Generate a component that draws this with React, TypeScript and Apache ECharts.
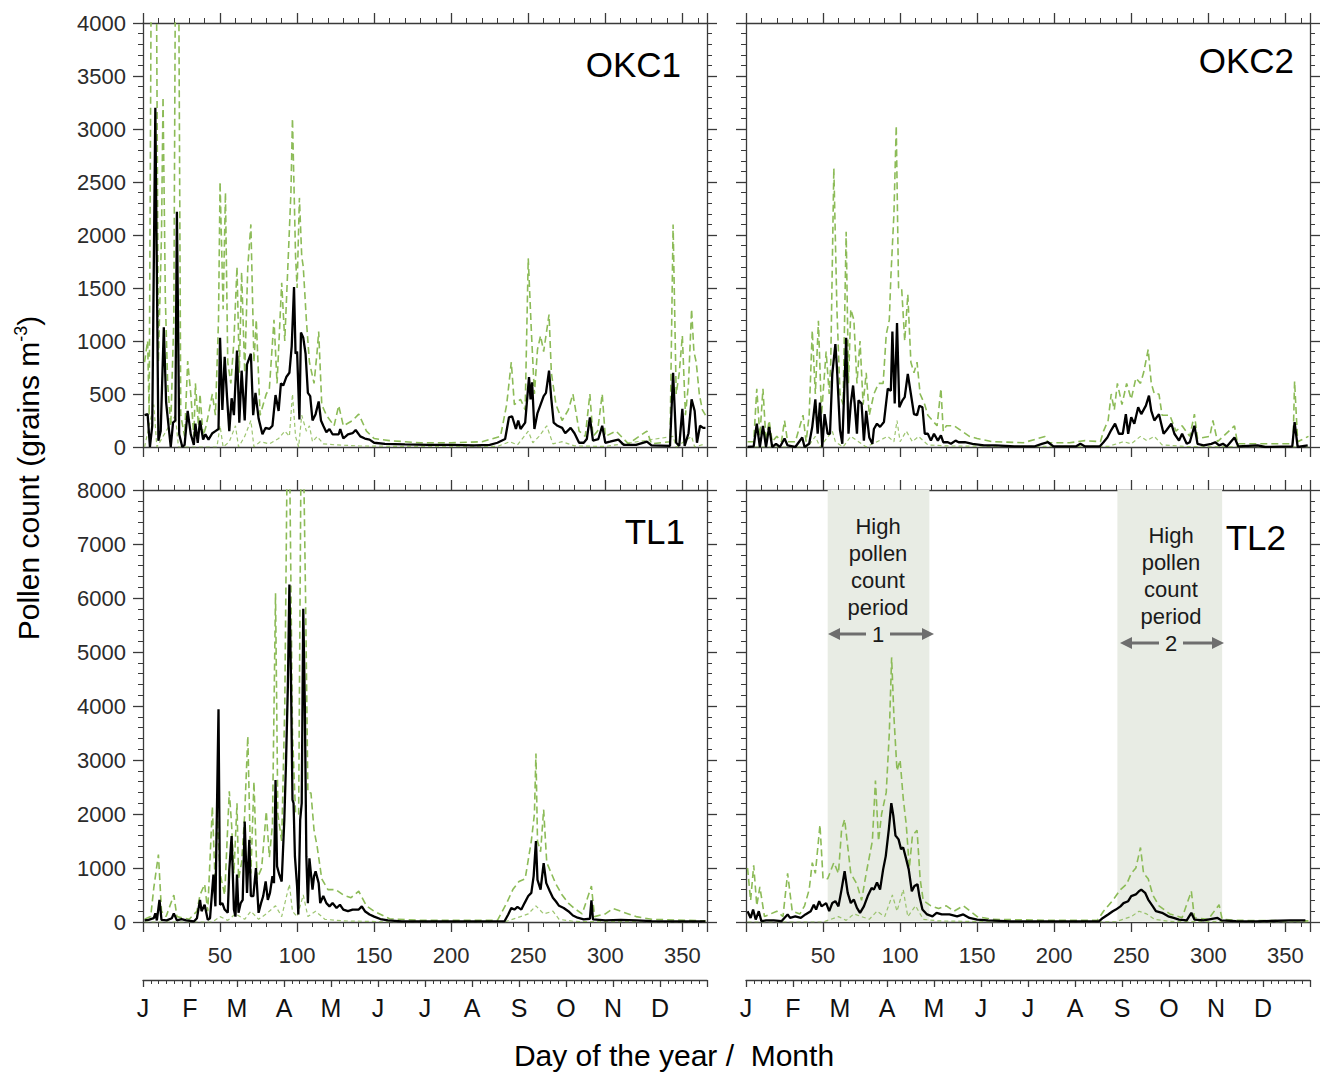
import React, { useEffect, useRef } from "react";
import * as echarts from "echarts";

// ---------- DATA (day of year, pollen count) ----------
const okc1Mean: number[][] = [[1,300],[3,310],[4.5,0],[6,200],[8,3200],[10,60],[11.5,150],[13.5,1130],[15,420],[18,0],[19.5,230],[21,250],[22,2220],[23.5,120],[25.5,0],[27,20],[29,340],[31,120],[33,20],[34,220],[35.5,40],[37,250],[39,70],[40.5,120],[42.5,70],[45,130],[47,150],[49,170],[50,1030],[51.5,350],[53,850],[54.5,480],[56,150],[57.5,460],[59,300],[61,910],[62.5,230],[64,720],[66,250],[67.5,780],[69,840],[70,880],[71.5,300],[73,510],[75,270],[77.5,120],[79.5,180],[82,170],[84,200],[86,490],[88,340],[89.5,600],[91,580],[93,660],[95,700],[96.5,950],[98,1510],[99,880],[100,900],[101.5,260],[102.5,1080],[104,1030],[105.5,880],[107,510],[108.5,480],[110,250],[112,310],[114,430],[115.5,250],[117,200],[119,140],[121,170],[123,120],[127,120],[128,170],[130,80],[133,120],[136,130],[138,160],[141,100],[144,80],[147,70],[150,40],[157,30],[170,25],[185,20],[200,20],[215,15],[225,20],[230,40],[235,75],[237.5,280],[239.5,290],[242,170],[243.5,250],[245,170],[248,230],[250.5,660],[251.5,450],[252.5,610],[254,170],[256,320],[258,400],[260,480],[261.5,510],[263.5,720],[265,450],[266.5,230],[269,200],[272,180],[274,130],[277.5,180],[280,130],[283,40],[286,40],[288,75],[290,280],[292,60],[295.5,75],[298,200],[300,40],[303,50],[308.5,70],[312,20],[320,20],[327,50],[330,15],[342,10],[344,700],[346,40],[348,10],[350,360],[351.5,10],[354,130],[356,450],[358,340],[359.5,40],[361.5,200],[363.5,180],[365,180]];
const okc1Upper: number[][] = [[1,800],[3,1000],[4,300],[5.5,5000],[7,6000],[8.5,5000],[10,800],[12,2000],[13,3300],[14.5,1400],[16,600],[18,200],[20,1200],[21.5,6000],[23,5000],[24.5,300],[27,100],[29,810],[31,500],[33,100],[34,600],[36,200],[37,500],[39,100],[41,200],[45,500],[47,300],[49,1200],[50,2500],[52,1300],[53.5,2400],[55,800],[57,600],[59,1000],[61,1700],[62.5,700],[64,1650],[66,700],[68,1700],[70,2100],[72,800],[73.5,1200],[76,300],[80,500],[82,550],[85,1200],[87,600],[90,1550],[92,1000],[94,1700],[96,2400],[97,3100],[99,1800],[100,1500],[101.5,2350],[103,1800],[104,1700],[106,1200],[108,800],[111,600],[113,900],[114,1090],[116,400],[119,300],[124,200],[127,390],[130,200],[136,250],[140,310],[145,150],[150,80],[160,60],[180,40],[200,40],[220,50],[232,100],[236,400],[239,800],[241,400],[245,450],[248,350],[250,1780],[252,1100],[254,500],[256,920],[258,1050],[260,900],[262,1100],[263.5,1250],[265,700],[268,400],[272,250],[276,350],[279,500],[283,150],[287,100],[290,500],[292,100],[295,150],[298,500],[300,100],[307,150],[315,30],[327,150],[330,30],[342,50],[344,2100],[346,500],[348,700],[350,1050],[352,300],[354,600],[356,1300],[357.5,900],[359,800],[361,500],[363,350],[365,300]];
const okc1Lower: number[][] = [[1,0],[7,400],[9,0],[21,300],[23,0],[30,0],[48,0],[50,200],[52,0],[56,50],[60,200],[62,0],[66,100],[70,250],[72,0],[76,50],[82,30],[88,80],[92,150],[95,100],[97,500],[99,100],[101,0],[103,300],[106,150],[108,200],[110,50],[113,100],[117,30],[125,20],[140,10],[170,5],[230,5],[238,50],[243,20],[250,150],[253,40],[257,100],[262,200],[266,30],[272,50],[280,10],[300,5],[344,100],[346,0],[356,100],[358,0],[365,30]];

const okc2Mean: number[][] = [[1,0],[5,5],[7,220],[9,0],[11,200],[13,0],[15,190],[17,0],[19.5,30],[22,0],[25,80],[27,15],[32,0],[36.5,90],[38,0],[41,30],[43,190],[45,450],[46.5,125],[48,420],[49.5,0],[51,310],[53,125],[54.5,125],[56,690],[58,970],[59,750],[61,160],[62.5,30],[65,1030],[66.5,125],[68,410],[69.5,580],[70.5,410],[72,125],[73,440],[75,410],[76.5,60],[78,340],[80,90],[82,30],[83,170],[85,220],[87,190],[89.5,235],[92,550],[94,530],[95,1090],[96.5,410],[98,1170],[99.5,375],[101.5,440],[103,470],[105,690],[107,500],[109,310],[111,300],[112.5,390],[114.5,375],[116,125],[118,125],[120,60],[122,125],[124.5,60],[126.5,110],[128,45],[131,45],[133,30],[136,60],[138,45],[142,45],[147,30],[154.5,15],[162,15],[174.5,5],[187,5],[192,30],[196,45],[199.5,5],[214,5],[217,30],[220,5],[229.5,5],[232,45],[234.5,90],[237,160],[239.5,220],[242,125],[244.5,125],[246.5,310],[248,125],[250,280],[252,220],[254.5,375],[256.5,310],[259.5,390],[261.5,485],[263,340],[265,250],[268,310],[271,125],[273,160],[276,220],[278,125],[281,60],[283,125],[286,30],[288,45],[291,200],[293,30],[297,15],[302,30],[304.5,45],[307,15],[309.5,30],[312,5],[317,90],[319.5,5],[332,15],[337,0],[354.5,5],[356,235],[358,0],[364.5,15]];
const okc2Upper: number[][] = [[1,50],[5,50],[7,550],[9,100],[11,550],[13,50],[15,250],[17,50],[20,100],[23,50],[25,250],[27,50],[32,50],[37,300],[39,50],[41,300],[43,1100],[45,500],[47,1190],[49,300],[51,700],[52,900],[54,500],[55,800],[57,2630],[59,1300],[61,500],[63,400],[65,2030],[66.5,600],[68,1300],[70,1200],[72,600],[74,1000],[76,400],[78,700],[80,300],[83,500],[86,600],[89,600],[91,1060],[93,1200],[94,1600],[96,2200],[97.5,3030],[99,1500],[101,1500],[103,1000],[105,1440],[107,800],[109,700],[111,800],[113,500],[116,400],[118,300],[121,250],[124,200],[126.5,550],[128,150],[130,200],[135,200],[140,150],[145,100],[150,80],[160,50],[180,40],[194,100],[196,40],[210,40],[220,60],[230,50],[232,150],[235,250],[237,500],[239,350],[241,600],[244,400],[247,600],[250,450],[253,650],[256,600],[258,700],[261,920],[263,600],[265,500],[268,500],[270,300],[275,300],[279,150],[283,200],[288,100],[291,310],[293,80],[301,100],[303,250],[306,50],[317,200],[319,30],[330,30],[350,30],[355,30],[356,620],[358,50],[365,100]];
const okc2Lower: number[][] = [[1,0],[40,0],[45,100],[48,0],[56,150],[58,50],[63,0],[68,100],[73,50],[78,0],[85,50],[92,100],[96,50],[98,250],[100,50],[104,150],[108,50],[112,100],[118,20],[130,10],[170,5],[235,5],[245,50],[250,30],[256,100],[260,60],[265,100],[270,20],[285,5],[365,0]];

const tl1Mean: number[][] = [[1,30],[3.6,40],[7,70],[8,160],[9,30],[10.7,410],[12,40],[15.4,30],[18.7,70],[20,160],[22,30],[25,55],[28,30],[33,10],[35,70],[37,410],[38,200],[40,320],[42,40],[43.5,70],[45.7,880],[47,290],[49,3940],[50,320],[51.5,350],[53,230],[55,170],[56,970],[57.5,1590],[59,230],[60,100],[61,880],[62,170],[63.4,350],[64.7,410],[66,1860],[67.5,540],[69,1520],[70,480],[71.6,480],[73.3,1000],[75,170],[76.6,350],[78,480],[79.6,750],[81,410],[82.4,540],[84,850],[85,720],[86,2630],[87,1030],[88.4,880],[90,750],[91.7,1890],[92.8,2940],[94,4360],[95,6250],[96,4550],[97,2260],[97.7,2200],[98.6,1210],[100,660],[100.8,140],[102,1890],[103,2200],[104,5800],[105,4050],[106,1210],[107,350],[108,1180],[110,600],[111,850],[112,940],[114,720],[115,350],[117,480],[119,350],[121,290],[123,350],[125.6,260],[127.8,320],[130,230],[133,200],[136,230],[140,230],[142,290],[144,200],[147,140],[150,100],[154,55],[159,30],[168,10],[200,10],[234.6,15],[237,140],[239,260],[241,230],[243,280],[245.5,230],[247.6,350],[250,480],[252,540],[253.5,850],[255,1500],[256,780],[258,600],[260,1090],[261.7,720],[264,570],[266,450],[268,380],[270,300],[273,260],[276,200],[279,120],[282,80],[286,50],[290,60],[291,400],[292,50],[300,30],[310,40],[320,30],[330,15],[350,10],[365,10]];
const tl1Upper: number[][] = [[1,50],[5,100],[7,630],[10,1250],[12,200],[15,100],[20,500],[22,100],[30,50],[35,200],[37,500],[40,700],[42,200],[45,2140],[47,600],[48,2100],[50,900],[53,500],[56,2420],[57.5,1800],[59,900],[61,2200],[62,800],[64,1100],[66,2000],[68,3440],[70,900],[72,2600],[74,800],[77,1000],[80,2050],[82,1200],[84,1800],[86,6090],[87.5,2000],[90,1500],[92,4000],[93.5,8500],[95,9000],[97,3500],[99,2000],[101,2000],[102.5,8500],[104,9000],[105.5,6000],[107,2400],[109,2390],[111,1700],[113,1400],[116,800],[120,600],[125,600],[130,500],[135,450],[140,570],[145,300],[150,200],[160,60],[180,30],[230,30],[236,350],[240,600],[244,750],[248,800],[252,1500],[254,2000],[255,3120],[256,1500],[258,1300],[260,2080],[262,1100],[265,900],[268,700],[272,500],[276,350],[280,250],[285,150],[291,665],[293,100],[300,150],[305,250],[310,200],[315,150],[320,100],[330,50],[355,30],[365,20]];
const tl1Lower: number[][] = [[1,0],[45,0],[50,100],[55,30],[60,150],[66,50],[70,200],[75,50],[80,150],[86,300],[90,100],[95,700],[97,200],[100,100],[104,500],[107,100],[112,200],[118,50],[130,20],[160,5],[235,5],[245,100],[250,150],[255,300],[260,150],[266,200],[270,50],[280,10],[365,0]];

const tl2Mean: number[][] = [[1,200],[3,75],[4.6,230],[6.3,45],[8.3,200],[10,15],[13,30],[18,30],[23,15],[27,140],[28.6,75],[32,105],[35.6,75],[38.6,140],[42,200],[44,320],[45.5,230],[47.5,385],[49,290],[52,350],[54,200],[56,350],[58,385],[60,290],[62,600],[64,940],[66,540],[68,350],[70,415],[72,260],[74,170],[76.5,290],[79,480],[81.5,630],[83,600],[85,730],[87,600],[89,975],[90.7,1220],[92.7,1720],[94.3,2200],[95.6,1970],[97,1600],[99,1530],[100.6,1350],[102,1380],[104,1160],[105.6,975],[107.6,570],[109.3,665],[111.3,700],[112.5,480],[114.5,230],[117.5,140],[121,105],[123.7,170],[127,140],[132,140],[137,105],[141,140],[145,75],[150,45],[157,30],[172,10],[229,10],[231.6,75],[235,140],[238,200],[240,230],[243,290],[245,350],[248,385],[250,480],[253,510],[255,570],[256.5,600],[259,540],[261,415],[264,290],[266,200],[270,170],[274,105],[277.5,75],[281,45],[286,30],[289,170],[291,45],[297,30],[306,75],[308.5,30],[318,15],[331,10],[353,30],[363,30]];
const tl2Upper: number[][] = [[1,1000],[3,400],[5,1050],[7,300],[9,650],[12,100],[20,200],[24,100],[27,900],[30,200],[35,150],[38,300],[41,600],[43,1100],[45,900],[48,1800],[50,800],[53,800],[57,1100],[60,900],[62,1700],[64,1900],[66,1400],[68,900],[72,700],[75,400],[78,900],[82,1500],[84,2620],[86,1500],[88,2000],[91,2400],[93,3500],[94.5,4900],[96,3800],[98,2800],[100,3000],[102,2300],[104,1800],[106,1000],[108,1600],[111,1700],[113,800],[115,400],[120,300],[125,250],[130,300],[135,200],[141,300],[150,100],[160,50],[200,30],[228,30],[232,200],[238,400],[243,600],[247,700],[250,900],[253,1000],[256,1380],[258,900],[261,800],[264,500],[268,300],[275,150],[283,80],[289,570],[291,80],[300,50],[307,320],[309,50],[320,30],[365,20]];
const tl2Lower: number[][] = [[1,0],[50,0],[60,100],[65,30],[70,150],[80,50],[85,200],[90,100],[95,500],[98,200],[102,600],[105,100],[110,300],[115,50],[125,20],[160,5],[240,5],[250,100],[255,200],[260,150],[265,50],[275,10],[365,0]];

const monthLabels = ["J", "F", "M", "A", "M", "J", "J", "A", "S", "O", "N", "D"];
const panelNames = ["OKC1", "OKC2", "TL1", "TL2"];
const panelMax = [4000, 4000, 8000, 8000];
const panelStep = [500, 500, 1000, 1000];
const highPeriods = [[53, 119], [241, 309]];

// ---------- STYLE ----------
const FONT = "'Liberation Sans', Arial, Helvetica, sans-serif";
const AX = "#3a3a3a";
const GREEN = "#8cbb57";

const grids = [
  { left: 143, top: 23, width: 564, height: 424 },
  { left: 746, top: 23, width: 564, height: 424 },
  { left: 143, top: 490, width: 564, height: 432 },
  { left: 746, top: 490, width: 564, height: 432 },
  { left: 143, top: 979, width: 564, height: 1 },
  { left: 746, top: 979, width: 564, height: 1 },
];

function App() {
  const ref = useRef<HTMLDivElement>(null);
  useEffect(() => {
    if (!ref.current) return;
    const chart = echarts.init(ref.current, undefined, { renderer: "svg" });

    const axisLine = { show: true, onZero: false, lineStyle: { color: AX, width: 1.3 } };
    const axisTick = { show: true, length: 10, lineStyle: { color: AX, width: 1.3 } };
    const minorTick = { show: true, splitNumber: 5, length: 5, lineStyle: { color: AX, width: 1 } };

    const xAxis: any[] = [];
    const yAxis: any[] = [];
    for (let g = 0; g < 4; g++) {
      ["bottom", "top"].forEach((pos) => {
        xAxis.push({
          type: "value", gridIndex: g, position: pos, min: 0, max: 366, interval: 50,
          axisLine, axisTick, minorTick, splitLine: { show: false },
          axisLabel: {
            show: pos === "bottom" && g >= 2, margin: 22, fontSize: 22, color: "#2b2b2b", fontFamily: FONT,
            formatter: (v: number) => (v > 0 && v <= 350 ? String(v) : ""),
          },
        });
      });
      ["left", "right"].forEach((pos) => {
        yAxis.push({
          type: "value", gridIndex: g, position: pos, min: 0, max: panelMax[g], interval: panelStep[g],
          axisLine, axisTick, minorTick, splitLine: { show: false },
          axisLabel: {
            show: pos === "left" && g % 2 === 0, margin: 17, fontSize: 22, color: "#2b2b2b", fontFamily: FONT,
            formatter: (v: number) => String(v),
          },
        });
      });
    }
    // month axes
    for (let g = 4; g < 6; g++) {
      xAxis.push({
        type: "value", gridIndex: g, position: "bottom", min: 0, max: 12, interval: 1,
        axisLine, axisTick: { show: true, length: 7, lineStyle: { color: AX, width: 1.3 } },
        minorTick: { show: true, splitNumber: 6, length: 4, lineStyle: { color: AX, width: 1 } },
        splitLine: { show: false },
        axisLabel: {
          margin: 15, fontSize: 25, color: "#111", fontFamily: FONT,
          formatter: (v: number) => monthLabels[Math.round(v)] ?? "",
        },
      });
      yAxis.push({ type: "value", gridIndex: g, show: false, min: 0, max: 1 });
    }

    const panels = [
      [okc1Mean, okc1Upper, okc1Lower],
      [okc2Mean, okc2Upper, okc2Lower],
      [tl1Mean, tl1Upper, tl1Lower],
      [tl2Mean, tl2Upper, tl2Lower],
    ];
    const series: any[] = [];
    series.push({
      type: "line", xAxisIndex: 6, yAxisIndex: 6, data: [[0, 0]], symbol: "none", silent: true, z: 0,
      lineStyle: { width: 0, opacity: 0 },
      markArea: {
        silent: true, itemStyle: { color: "#e8ece4" },
        data: highPeriods.map(([a, b]) => [{ xAxis: a }, { xAxis: b }]),
      },
    });
    panels.forEach(([mean, upper, lower], g) => {
      series.push({
        type: "line", xAxisIndex: 2 * g, yAxisIndex: 2 * g, data: lower, symbol: "none", z: 2,
        lineStyle: { color: GREEN, width: 1.2, type: [4, 3], opacity: 0.85 },
      });
      series.push({
        type: "line", xAxisIndex: 2 * g, yAxisIndex: 2 * g, data: upper, symbol: "none", z: 3,
        lineStyle: { color: GREEN, width: 1.6, type: [7, 4] },
      });
      series.push({
        type: "line", xAxisIndex: 2 * g, yAxisIndex: 2 * g, data: mean, symbol: "none", z: 4,
        lineStyle: { color: "#000", width: 2.3 },
      });
    });

    const labelPos = [
      { x: 681, y: 64 }, { x: 1294, y: 60 }, { x: 685, y: 531 }, { x: 1286, y: 537 },
    ];
    const graphic: any[] = panelNames.map((name, i) => ({
      type: "text", x: labelPos[i].x, y: labelPos[i].y, z: 10,
      style: { text: name, fontSize: 35, fill: "#000", fontFamily: FONT, align: "right", verticalAlign: "middle" },
    }));
    graphic.push({
      type: "text", x: 28, y: 478, rotation: Math.PI / 2, z: 10,
      style: {
        text: "Pollen count (grains m{sup|-3})", fontSize: 30, fontFamily: FONT, fill: "#000",
        align: "center", verticalAlign: "middle",
        rich: { sup: { fontSize: 18, fontFamily: FONT, fill: "#000", padding: [0, 0, 14, 0] } },
      },
    });
    graphic.push({
      type: "text", x: 674, y: 1055, z: 10,
      style: { text: "Day of the year /  Month", fontSize: 30, fontFamily: FONT, fill: "#000", align: "center", verticalAlign: "middle" },
    });
    const ann = [
      { cx: 878, cy: 567, ay: 634, num: "1", l: 828, r: 934 },
      { cx: 1171, cy: 576, ay: 643, num: "2", l: 1120, r: 1224 },
    ];
    ann.forEach((a) => {
      graphic.push({
        type: "text", x: a.cx, y: a.cy, z: 10,
        style: { text: "High\npollen\ncount\nperiod", fontSize: 22, lineHeight: 27, fontFamily: FONT, fill: "#1a1a1a", align: "center", verticalAlign: "middle" },
      });
      graphic.push({
        type: "text", x: a.cx, y: a.ay, z: 10,
        style: { text: a.num, fontSize: 22, fontFamily: FONT, fill: "#1a1a1a", align: "center", verticalAlign: "middle" },
      });
      const stroke = { stroke: "#6e6e6e", lineWidth: 3 };
      graphic.push({ type: "line", z: 10, shape: { x1: a.cx - 12, y1: a.ay, x2: a.l + 10, y2: a.ay }, style: stroke });
      graphic.push({ type: "polygon", z: 10, shape: { points: [[a.l, a.ay], [a.l + 12, a.ay - 6], [a.l + 12, a.ay + 6]] }, style: { fill: "#6e6e6e" } });
      graphic.push({ type: "line", z: 10, shape: { x1: a.cx + 12, y1: a.ay, x2: a.r - 10, y2: a.ay }, style: stroke });
      graphic.push({ type: "polygon", z: 10, shape: { points: [[a.r, a.ay], [a.r - 12, a.ay - 6], [a.r - 12, a.ay + 6]] }, style: { fill: "#6e6e6e" } });
    });

    chart.setOption({
      animation: false,
      backgroundColor: "#fff",
      textStyle: { fontFamily: FONT },
      grid: grids,
      xAxis,
      yAxis,
      series,
      graphic,
    });
    return () => chart.dispose();
  }, []);
  return (
    <div
      ref={ref}
      style={{ position: "absolute", left: 0, top: 0, width: 1324, height: 1072, background: "#fff" }}
    />
  );
}

export default App;
